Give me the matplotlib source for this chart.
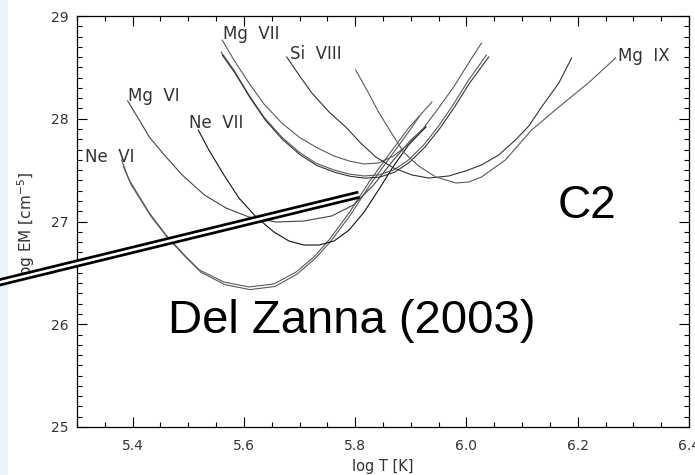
import numpy as np
import matplotlib.pyplot as plt
from matplotlib.lines import Line2D
from matplotlib.patches import Rectangle
from matplotlib.ticker import MultipleLocator

# EM loci: log T and log EM for each line
ne6a_T = [5.380, 5.394, 5.430, 5.460, 5.493, 5.520, 5.564, 5.609, 5.654, 5.694, 5.726, 5.753, 5.789, 5.825, 5.860, 5.896, 5.938]
ne6a_EM = [27.599, 27.404, 27.083, 26.869, 26.674, 26.528, 26.411, 26.363, 26.392, 26.509, 26.655, 26.820, 27.083, 27.384, 27.647, 27.910, 28.163]
ne6b_T = [5.383, 5.397, 5.433, 5.463, 5.496, 5.523, 5.566, 5.611, 5.656, 5.696, 5.728, 5.755, 5.791, 5.827, 5.862, 5.897, 5.915]
ne6b_EM = [27.54, 27.36, 27.05, 26.84, 26.65, 26.505, 26.385, 26.337, 26.368, 26.49, 26.64, 26.80, 27.06, 27.36, 27.62, 27.88, 28.02]

mg6_T = [5.391, 5.412, 5.430, 5.457, 5.489, 5.529, 5.568, 5.609, 5.658, 5.708, 5.758, 5.797, 5.833, 5.869, 5.900, 5.927]
mg6_EM = [28.173, 27.988, 27.822, 27.647, 27.453, 27.258, 27.131, 27.044, 26.995, 27.005, 27.054, 27.161, 27.355, 27.599, 27.793, 27.920]

ne7_T = [5.518, 5.537, 5.564, 5.591, 5.622, 5.654, 5.681, 5.708, 5.735, 5.762, 5.789, 5.816, 5.842, 5.869, 5.896, 5.927]
ne7_EM = [27.890, 27.696, 27.453, 27.229, 27.044, 26.898, 26.810, 26.771, 26.771, 26.810, 26.917, 27.092, 27.307, 27.540, 27.745, 27.920]

mg7a_T = [5.561, 5.582, 5.609, 5.636, 5.668, 5.699, 5.729, 5.762, 5.789, 5.816, 5.842, 5.869, 5.896, 5.923, 5.950, 5.977, 6.004, 6.027]
mg7a_EM = [28.766, 28.572, 28.348, 28.144, 27.959, 27.822, 27.725, 27.637, 27.589, 27.560, 27.569, 27.637, 27.754, 27.910, 28.105, 28.309, 28.543, 28.737]
mg7b_T = [5.559, 5.582, 5.609, 5.636, 5.668, 5.699, 5.729, 5.762, 5.789, 5.816, 5.842, 5.869, 5.896, 5.923, 5.950, 5.977, 6.004, 6.036]
mg7b_EM = [28.650, 28.474, 28.231, 28.017, 27.822, 27.676, 27.569, 27.501, 27.462, 27.443, 27.453, 27.501, 27.599, 27.745, 27.929, 28.144, 28.377, 28.620]
mg7c_T = [5.561, 5.584, 5.611, 5.638, 5.670, 5.701, 5.731, 5.764, 5.791, 5.818, 5.844, 5.871, 5.898, 5.925, 5.952, 5.979, 6.006, 6.040]
mg7c_EM = [28.62, 28.445, 28.205, 27.99, 27.795, 27.650, 27.545, 27.478, 27.440, 27.422, 27.432, 27.480, 27.578, 27.722, 27.905, 28.118, 28.350, 28.601]

si8_T = [5.677, 5.699, 5.722, 5.753, 5.783, 5.810, 5.837, 5.869, 5.902, 5.932, 5.968, 5.998, 6.027, 6.058, 6.088, 6.112, 6.135, 6.166, 6.189]
si8_EM = [28.601, 28.426, 28.251, 28.066, 27.920, 27.764, 27.628, 27.521, 27.453, 27.423, 27.443, 27.491, 27.550, 27.647, 27.793, 27.929, 28.114, 28.348, 28.591]

mg9_T = [5.801, 5.821, 5.842, 5.864, 5.887, 5.914, 5.945, 5.981, 6.004, 6.027, 6.070, 6.117, 6.166, 6.219, 6.268]
mg9_EM = [28.474, 28.280, 28.066, 27.871, 27.676, 27.540, 27.433, 27.375, 27.384, 27.433, 27.599, 27.890, 28.114, 28.348, 28.591]

curves = [
    (ne6a_T, ne6a_EM, '#5a5a5a'),
    (ne6b_T, ne6b_EM, '#5a5a5a'),
    (mg6_T, mg6_EM, '#444444'),
    (ne7_T, ne7_EM, '#111111'),
    (mg7a_T, mg7a_EM, '#5a5a5a'),
    (mg7b_T, mg7b_EM, '#5a5a5a'),
    (mg7c_T, mg7c_EM, '#333333'),
    (si8_T, si8_EM, '#333333'),
    (mg9_T, mg9_EM, '#5a5a5a'),
]

line_names = ['Ne  VI', 'Mg  VI', 'Ne  VII', 'Mg  VII', 'Si  VIII', 'Mg  IX']
name_T = [5.314, 5.392, 5.501, 5.562, 5.683, 6.272]
name_EM = [27.58, 28.17, 27.91, 28.78, 28.58, 28.56]

# the hollow pointer that runs off the slide on the left
arrow_T = [5.14, 5.8068]
arrow_EM = [26.38, 27.261]

fig = plt.figure(figsize=(6.95, 4.75), dpi=100)
ax = fig.add_axes([77/695, 1 - 427/475, 612/695, 411/475])

for T, EM, c in curves:
    ax.plot(T, EM, color=c, lw=0.8)

for name, t, em in zip(line_names, name_T, name_EM):
    ax.text(t, em, name, fontsize=12, color='#333333', ha='left', va='baseline')

ax.set_xlim(5.3, 6.4)
ax.set_ylim(25, 29)
ax.xaxis.set_major_locator(MultipleLocator(0.2))
ax.xaxis.set_minor_locator(MultipleLocator(0.05))
ax.yaxis.set_major_locator(MultipleLocator(1))
ax.yaxis.set_minor_locator(MultipleLocator(0.1))
ax.set_xticks(np.arange(5.4, 6.41, 0.2))
ax.set_xticklabels(['5.4', '5.6', '5.8', '6.0', '6.2', '6.4'])
ax.tick_params(which='both', direction='in', top=True, right=True,
               labelsize=10, labelcolor='#333333', width=0.8)
ax.tick_params(which='major', length=7.5, pad=6)
ax.tick_params(axis='x', which='major', pad=9)
ax.tick_params(which='minor', length=3.5)
for s in ax.spines.values():
    s.set_linewidth(0.9)

ax.set_xlabel('log T [K]', fontsize=10.5, color='#333333', labelpad=4)
ax.set_ylabel('log EM [cm$^{-5}$]', fontsize=11, color='#333333')
ax.yaxis.set_label_coords(-0.066, 0.49)

ax.text(5.4636, 25.915, 'Del Zanna (2003)', fontsize=34, family='Liberation Sans',
        color='black', ha='left', va='baseline')
ax.text(6.163, 27.03, 'C2', fontsize=33, family='Liberation Sans',
        color='black', ha='left', va='baseline')

# slide background strip at the left edge
fig.patches.append(Rectangle((0, 0), 8/695, 1, transform=fig.transFigure,
                             facecolor='#ebf3fa', edgecolor='none', zorder=1))

fig.lines.append(Line2D(arrow_T, arrow_EM, transform=ax.transData,
                        color='black', lw=5.8, solid_capstyle='butt', zorder=2))
fig.lines.append(Line2D(arrow_T, arrow_EM, transform=ax.transData,
                        color='white', lw=1.9, solid_capstyle='butt', zorder=3))

plt.savefig('out.png', dpi=100)
